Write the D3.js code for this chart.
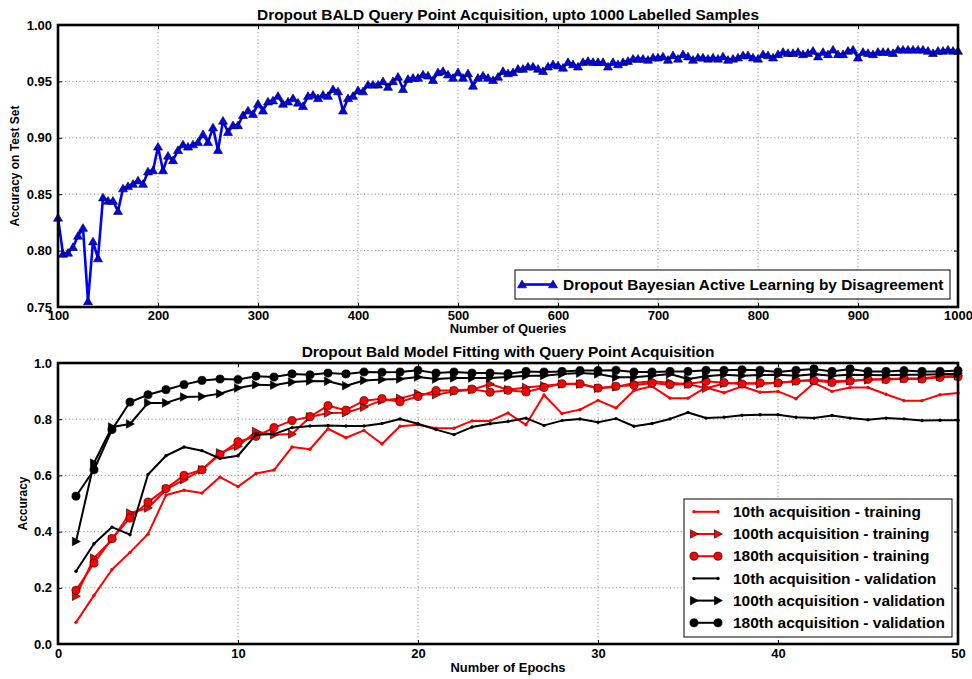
<!DOCTYPE html>
<html>
<head>
<meta charset="utf-8">
<script src="https://cdn.jsdelivr.net/npm/d3@7"></script>
<style>
  body { margin: 0; background: #fff; }
  svg text { font-family: "Liberation Sans", Arial, Helvetica, sans-serif; font-weight: bold; fill: #000; }
</style>
</head>
<body>
<svg id="chart" width="972" height="679"></svg>
<script>
// ---- Upper panel: BALD test accuracy, one value every 5 queries from 100 to 1000 ----
const queryStart = 100;
const queryStep = 5;
const baldAccuracy = [
  0.829,0.797,0.798,0.803,0.813,0.820,0.755,0.808,0.793,0.847,
  0.844,0.844,0.835,0.855,0.857,0.859,0.862,0.859,0.870,0.871,
  0.892,0.871,0.884,0.880,0.889,0.894,0.892,0.894,0.896,0.903,
  0.896,0.909,0.889,0.915,0.905,0.911,0.911,0.920,0.924,0.921,
  0.930,0.924,0.932,0.933,0.937,0.930,0.932,0.935,0.931,0.928,
  0.937,0.938,0.935,0.938,0.937,0.943,0.941,0.924,0.935,0.937,
  0.942,0.941,0.947,0.947,0.947,0.950,0.945,0.950,0.954,0.943,
  0.952,0.953,0.953,0.956,0.955,0.951,0.958,0.959,0.956,0.953,
  0.958,0.953,0.957,0.946,0.953,0.955,0.953,0.951,0.954,0.959,
  0.957,0.958,0.961,0.961,0.963,0.963,0.961,0.959,0.963,0.965,
  0.964,0.962,0.967,0.965,0.963,0.967,0.968,0.967,0.967,0.967,
  0.963,0.967,0.965,0.967,0.968,0.970,0.970,0.970,0.969,0.971,
  0.971,0.972,0.969,0.973,0.970,0.974,0.972,0.969,0.971,0.971,
  0.970,0.971,0.970,0.972,0.969,0.970,0.971,0.973,0.973,0.971,
  0.970,0.974,0.973,0.971,0.974,0.976,0.975,0.975,0.976,0.974,
  0.975,0.977,0.972,0.976,0.974,0.978,0.974,0.974,0.977,0.978,
  0.971,0.976,0.975,0.974,0.976,0.976,0.976,0.975,0.978,0.978,
  0.978,0.978,0.978,0.978,0.977,0.975,0.977,0.977,0.978,0.977,
  0.977
];
const queryTicks = [100, 200, 300, 400, 500, 600, 700, 800, 900, 1000];
const testAccTicks = [0.75, 0.80, 0.85, 0.90, 0.95, 1.00];
const topTitle = "Dropout BALD Query Point Acquisition, upto 1000 Labelled Samples";
const topLegend = "Dropout Bayesian Active Learning by Disagreement";

// ---- Lower panel: accuracy per epoch (epochs 1..50) ----
const epochs = d3.range(1, 51);
const train10 = [
  0.077,0.173,0.265,0.326,0.391,0.530,0.547,0.537,0.594,0.560,
  0.607,0.619,0.701,0.693,0.766,0.734,0.760,0.712,0.775,0.780,
  0.768,0.768,0.794,0.794,0.822,0.780,0.886,0.820,0.834,0.867,
  0.840,0.902,0.917,0.875,0.875,0.913,0.894,0.917,0.896,0.899,
  0.873,0.929,0.899,0.913,0.913,0.889,0.866,0.866,0.887,0.893
];
const train100 = [
  0.170,0.306,0.371,0.466,0.484,0.549,0.585,0.620,0.680,0.704,
  0.756,0.745,0.747,0.808,0.822,0.823,0.843,0.867,0.874,0.891,
  0.887,0.899,0.905,0.925,0.905,0.913,0.919,0.925,0.925,0.910,
  0.915,0.929,0.935,0.930,0.925,0.910,0.927,0.930,0.925,0.930,
  0.935,0.940,0.935,0.937,0.940,0.943,0.945,0.946,0.952,0.955
];
const train180 = [
  0.191,0.288,0.375,0.448,0.505,0.553,0.600,0.620,0.674,0.720,
  0.739,0.770,0.795,0.809,0.848,0.832,0.866,0.873,0.862,0.881,
  0.902,0.902,0.907,0.896,0.903,0.897,0.913,0.926,0.926,0.911,
  0.917,0.921,0.929,0.923,0.925,0.935,0.930,0.925,0.929,0.929,
  0.936,0.938,0.931,0.936,0.942,0.941,0.944,0.943,0.949,0.951
];
const valid10 = [
  0.259,0.357,0.416,0.389,0.603,0.670,0.701,0.688,0.660,0.670,
  0.745,0.747,0.770,0.776,0.778,0.776,0.776,0.785,0.801,0.784,
  0.763,0.745,0.772,0.784,0.792,0.804,0.778,0.795,0.801,0.789,
  0.802,0.775,0.785,0.801,0.824,0.804,0.807,0.814,0.816,0.816,
  0.807,0.804,0.813,0.804,0.798,0.804,0.801,0.795,0.796,0.796
];
const valid100 = [
  0.365,0.644,0.772,0.783,0.858,0.858,0.879,0.881,0.891,0.911,
  0.923,0.921,0.932,0.936,0.935,0.919,0.938,0.941,0.943,0.950,
  0.943,0.947,0.947,0.947,0.950,0.955,0.955,0.961,0.964,0.961,
  0.949,0.949,0.955,0.961,0.943,0.953,0.958,0.955,0.957,0.958,
  0.955,0.960,0.955,0.958,0.957,0.956,0.958,0.958,0.960,0.962
];
const valid180 = [
  0.526,0.620,0.763,0.861,0.887,0.905,0.923,0.938,0.943,0.941,
  0.953,0.950,0.961,0.958,0.964,0.961,0.968,0.967,0.968,0.974,
  0.964,0.968,0.964,0.964,0.962,0.970,0.968,0.970,0.973,0.973,
  0.974,0.968,0.968,0.970,0.970,0.974,0.974,0.976,0.974,0.968,
  0.974,0.979,0.970,0.979,0.970,0.970,0.973,0.970,0.970,0.973
];
const seriesNames = [
  "10th acquisition - training",
  "100th acquisition - training",
  "180th acquisition - training",
  "10th acquisition - validation",
  "100th acquisition - validation",
  "180th acquisition - validation"
];
const epochTicks = [0, 10, 20, 30, 40, 50];
const accTicks = [0.0, 0.2, 0.4, 0.6, 0.8, 1.0];
const bottomTitle = "Dropout Bald Model Fitting with Query Point Acquisition";

// ---- Drawing ----
const svg = d3.select("#chart");
svg.append("rect").attr("width", 972).attr("height", 679).attr("fill", "#fff");

// horizontal text is set a little wide
const TEXT_STRETCH = 1.08;
const TICK_STRETCH = 1.04;

function wideText(g, x, y, anchor, size, str) {
  return g.append("text")
    .attr("transform", `translate(${x},${y}) scale(${TEXT_STRETCH},1)`)
    .attr("text-anchor", anchor)
    .style("font-size", size + "px")
    .text(str);
}

const markerPaths = {
  up: "M0,-4.4L4.5,3.3L-4.5,3.3Z",
  right: "M-3.6,-4.3L4.4,0L-3.6,4.3Z"
};

function drawMarker(g, kind, x, y, fill) {
  if (kind === "circle") {
    g.append("circle").attr("cx", x).attr("cy", y).attr("r", 4.1)
      .attr("fill", fill).attr("stroke", "#000").attr("stroke-width", 0.6);
  } else if (kind === "dot") {
    g.append("circle").attr("cx", x).attr("cy", y).attr("r", 1.7)
      .attr("fill", fill);
  } else {
    g.append("path").attr("d", markerPaths[kind])
      .attr("transform", `translate(${x},${y})`)
      .attr("fill", fill).attr("stroke", "#000").attr("stroke-width", 0.6);
  }
}

function styleAxis(sel, size, side) {
  sel.attr("font-family", null).attr("font-size", null);
  sel.select(".domain").remove();
  sel.selectAll(".tick line").attr("stroke", "#000").attr("stroke-width", 1);
  sel.selectAll(".tick text").style("font-size", size + "px").each(function () {
    const t = d3.select(this);
    if (side === "left") {
      const x = +t.attr("x");
      t.attr("x", x / TICK_STRETCH);
    }
    t.attr("transform", `scale(${TICK_STRETCH},1)`);
  });
}

function drawFrame(x, y, xTicks, yTicks, xFmt, yFmt, opts) {
  const [x0, x1] = x.range();
  const [y0, y1] = y.range(); // y0 = bottom, y1 = top
  const g = svg.append("g");

  // dotted grid
  const grid = g.append("g").attr("stroke", "#808080").attr("stroke-width", 1)
    .attr("stroke-dasharray", "1,2.6");
  xTicks.slice(1, -1).forEach(t => {
    grid.append("line").attr("x1", x(t)).attr("x2", x(t)).attr("y1", y1).attr("y2", y0);
  });
  yTicks.slice(1, -1).forEach(t => {
    grid.append("line").attr("x1", x0).attr("x2", x1).attr("y1", y(t)).attr("y2", y(t));
  });

  // inward ticks on four sides, labels on bottom and left
  const fs = 12.5;
  styleAxis(g.append("g").attr("transform", `translate(0,${y0})`)
    .call(d3.axisBottom(x).tickValues(xTicks).tickFormat(xFmt).tickSize(-4).tickPadding(opts.xPad)), fs, "bottom");
  styleAxis(g.append("g").attr("transform", `translate(0,${y1})`)
    .call(d3.axisTop(x).tickValues(xTicks).tickFormat("").tickSize(-4)), fs, "top");
  styleAxis(g.append("g").attr("transform", `translate(${x0},0)`)
    .call(d3.axisLeft(y).tickValues(yTicks).tickFormat(yFmt).tickSize(-4).tickPadding(6)), fs, "left");
  styleAxis(g.append("g").attr("transform", `translate(${x1},0)`)
    .call(d3.axisRight(y).tickValues(yTicks).tickFormat("").tickSize(-4)), fs, "right");

  return g;
}

function finishFrame(g, x, y, title, titleY, xLabel, xLabelY, yLabel, yLabelX) {
  const [x0, x1] = x.range();
  const [y0, y1] = y.range();
  g.append("rect").attr("x", x0).attr("y", y1).attr("width", x1 - x0).attr("height", y0 - y1)
    .attr("fill", "none").attr("stroke", "#000").attr("stroke-width", 2.6);
  wideText(g, (x0 + x1) / 2, titleY, "middle", 14.3, title);
  wideText(g, (x0 + x1) / 2, xLabelY, "middle", 12, xLabel);
  g.append("text").attr("transform", `translate(${yLabelX},${(y0 + y1) / 2}) rotate(-90) scale(1,${TEXT_STRETCH})`)
    .attr("text-anchor", "middle").style("font-size", "12px").text(yLabel);
}

// Upper panel
const xQ = d3.scaleLinear().domain([100, 1000]).range([58, 958]);
const yQ = d3.scaleLinear().domain([0.75, 1.0]).range([307, 25]);
const gTop = drawFrame(xQ, yQ, queryTicks, testAccTicks, d3.format("d"), d3.format(".2f"), { xPad: 4 });

const baldPoints = baldAccuracy.map((v, i) => [queryStart + queryStep * i, v]);
const lineQ = d3.line().x(d => xQ(d[0])).y(d => yQ(d[1]));
const gBald = gTop.append("g");
gBald.append("path").datum(baldPoints).attr("d", lineQ)
  .attr("fill", "none").attr("stroke", "#0000ff").attr("stroke-width", 2.6)
  .attr("stroke-linejoin", "round");
baldPoints.forEach(d => drawMarker(gBald, "up", xQ(d[0]), yQ(d[1]), "#0000ff"));

finishFrame(gTop, xQ, yQ, topTitle, 20, "Number of Queries", 333, "Accuracy on Test Set", 19);

// upper legend
const legTop = gTop.append("g");
legTop.append("rect").attr("x", 515).attr("y", 270).attr("width", 435).attr("height", 29)
  .attr("fill", "#fff").attr("stroke", "#000").attr("stroke-width", 1);
legTop.append("line").attr("x1", 522).attr("x2", 553).attr("y1", 284.5).attr("y2", 284.5)
  .attr("stroke", "#0000ff").attr("stroke-width", 2.6);
drawMarker(legTop, "up", 522, 284.5, "#0000ff");
drawMarker(legTop, "up", 553, 284.5, "#0000ff");
wideText(legTop, 563, 290, "start", 14.3, topLegend);

// Lower panel
const xE = d3.scaleLinear().domain([0, 50]).range([58, 958]);
const yE = d3.scaleLinear().domain([0, 1]).range([644, 363]);
const gBot = drawFrame(xE, yE, epochTicks, accTicks, d3.format("d"), d3.format(".1f"), { xPad: 5 });

const series = [
  { name: seriesNames[0], values: train10, color: "#ff0000", marker: "dot" },
  { name: seriesNames[1], values: train100, color: "#ff0000", marker: "right" },
  { name: seriesNames[2], values: train180, color: "#ff0000", marker: "circle" },
  { name: seriesNames[3], values: valid10, color: "#000000", marker: "dot" },
  { name: seriesNames[4], values: valid100, color: "#000000", marker: "right" },
  { name: seriesNames[5], values: valid180, color: "#000000", marker: "circle" }
];
const lineE = d3.line().x(d => xE(d[0])).y(d => yE(d[1]));
series.forEach(s => {
  const pts = s.values.map((v, i) => [epochs[i], v]);
  const gs = gBot.append("g");
  gs.append("path").datum(pts).attr("d", lineE).attr("fill", "none")
    .attr("stroke", s.color).attr("stroke-width", 2).attr("stroke-linejoin", "round");
  pts.forEach(d => drawMarker(gs, s.marker, xE(d[0]), yE(d[1]), s.color));
});

finishFrame(gBot, xE, yE, bottomTitle, 357, "Number of Epochs", 672, "Accuracy", 27);

// lower legend
const legBot = gBot.append("g");
legBot.append("rect").attr("x", 684).attr("y", 499).attr("width", 268).attr("height", 138)
  .attr("fill", "#fff").attr("stroke", "#000").attr("stroke-width", 1);
series.forEach((s, i) => {
  const ly = 511.8 + i * 22.2;
  legBot.append("line").attr("x1", 694).attr("x2", 718).attr("y1", ly).attr("y2", ly)
    .attr("stroke", s.color).attr("stroke-width", 2);
  drawMarker(legBot, s.marker, 694, ly, s.color);
  drawMarker(legBot, s.marker, 718, ly, s.color);
  wideText(legBot, 733, ly + 5.2, "start", 14.3, s.name);
});
</script>
</body>
</html>
